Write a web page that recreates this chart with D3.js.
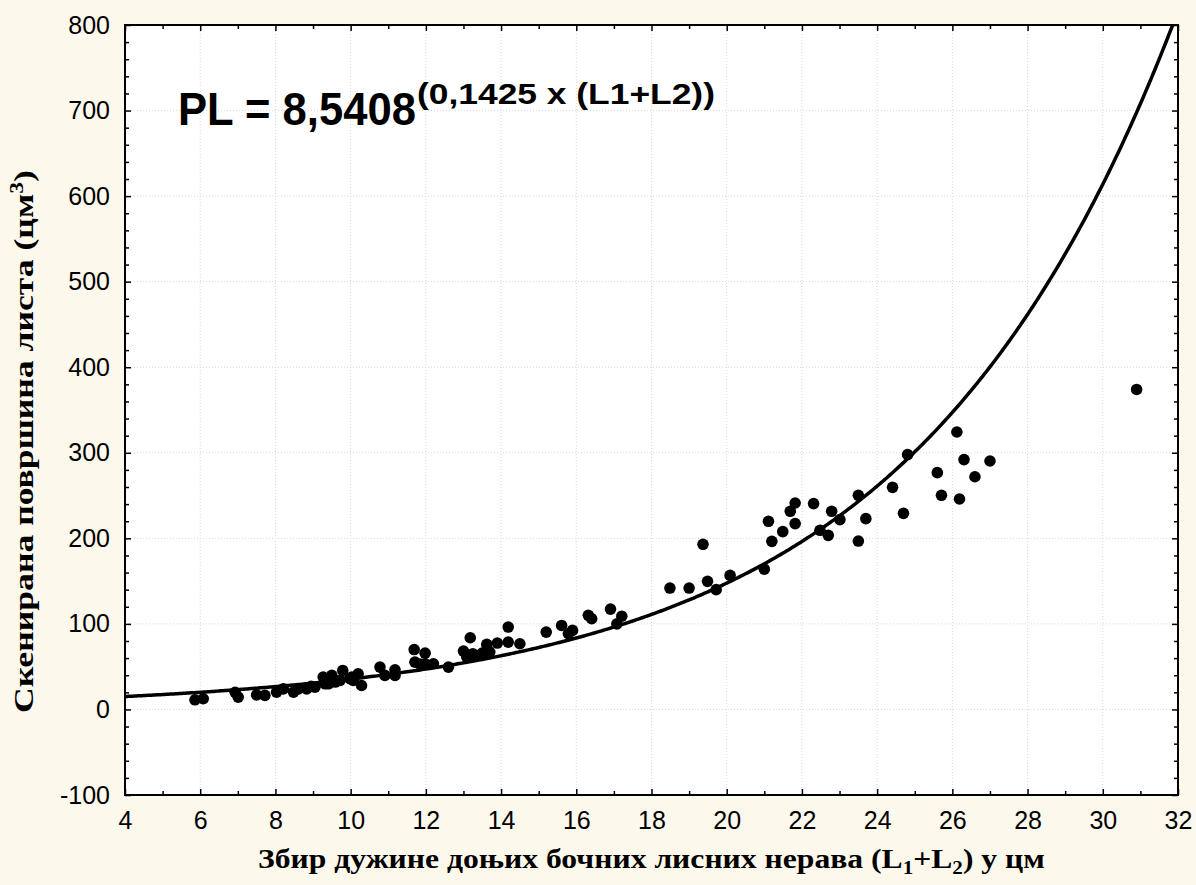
<!DOCTYPE html>
<html><head><meta charset="utf-8">
<script src="https://cdn.jsdelivr.net/npm/d3@7/dist/d3.min.js"></script>
<style>
html,body{margin:0;padding:0;background:#fdf8ec;}
svg{display:block;}
</style></head>
<body>
<svg id="chart" width="1196" height="885"></svg>
<script>
// Data
const sumL = [5.86,6.08,6.93,7.01,7.5,7.72,8.03,8.21,8.48,8.61,8.83,8.95,9.05,9.27,9.32,9.41,9.45,9.5,9.59,9.72,9.79,9.98,10.03,10.07,10.2,10.29,10.78,10.91,11.18,11.18,11.69,11.71,11.85,11.98,11.98,12.2,12.6,13.0,13.09,13.1,13.18,13.25,13.35,13.5,13.62,13.7,13.9,14.19,14.19,14.5,15.2,15.61,15.79,15.9,16.32,16.41,16.91,17.08,17.21,18.49,19.0,19.37,19.49,19.72,20.09,21.0,21.11,21.2,21.49,21.69,21.82,21.82,22.31,22.48,22.7,22.79,23.01,23.5,23.5,23.7,24.41,24.7,24.81,25.6,25.71,26.12,26.19,26.31,26.6,27.0,30.9];
const leafArea = [11.3,12.5,20,14.4,17,16.4,20.3,24,20.3,24,24,27,26,37.8,30,30,36,39.8,32,34,45.6,36,37.8,34,41.7,28,49.5,39.8,46.4,39.8,70,55.3,53,65.8,53.4,53.4,49.5,68.2,61,64,83.8,65,63,66,76,67,77.6,96.3,78.7,76.8,90.4,98.2,88.5,92.4,110,106,117.3,100,109,141.9,141.9,193,149.7,140,156.7,164,219.9,196.5,207.8,231.6,241.3,217.2,240.6,209.4,203.5,231.6,221.9,250.3,196.8,223,259.6,229.2,297.9,276.8,250.3,324.3,246,292,272,290.4,374];
const xTicks = [4,6,8,10,12,14,16,18,20,22,24,26,28,30,32];
const yTicks = [-100,0,100,200,300,400,500,600,700,800];
const fitA = 8.5408, fitB = 0.1425;

const svg = d3.select("#chart");
const L = 125, T = 25, R = 1178, B = 795;
const x = d3.scaleLinear().domain([4,32]).range([L,R]);
const y = d3.scaleLinear().domain([-100,800]).range([B,T]);

svg.append("rect").attr("x",L).attr("y",T).attr("width",R-L).attr("height",B-T).attr("fill","#fff");

// grid
const grid = svg.append("g").attr("stroke","#d8d8d8").attr("stroke-dasharray","1,2").attr("stroke-width",1);
xTicks.slice(1,-1).forEach(v=>grid.append("line").attr("x1",x(v)).attr("x2",x(v)).attr("y1",T).attr("y2",B));
yTicks.slice(1,-1).forEach(v=>grid.append("line").attr("y1",y(v)).attr("y2",y(v)).attr("x1",L).attr("x2",R));

// axes
const xMinor = d3.range(5,32,2);
const yMinor = d3.range(-80,800,20).filter(v=>v%100!==0);
function styleAxis(g){ g.select(".domain").remove(); g.selectAll("line").attr("stroke","#000").attr("stroke-width",1.5); }
const fontAx = "'Liberation Sans', Arial, sans-serif";
const fmt = d => String(d);

const gb = svg.append("g").attr("transform",`translate(0,${B})`).call(d3.axisBottom(x).tickValues(xTicks).tickSize(-6).tickPadding(16).tickFormat(fmt));
styleAxis(gb);
gb.selectAll("text").attr("font-family",fontAx).attr("font-size",25).attr("fill","#000");
svg.append("g").attr("transform",`translate(0,${B})`).call(d3.axisBottom(x).tickValues(xMinor).tickSize(-4).tickFormat("")).call(styleAxis);

const gl = svg.append("g").attr("transform",`translate(${L},0)`).call(d3.axisLeft(y).tickValues(yTicks).tickSize(-6).tickPadding(15).tickFormat(fmt));
styleAxis(gl);
gl.selectAll("text").attr("font-family",fontAx).attr("font-size",25).attr("fill","#000");
svg.append("g").attr("transform",`translate(${L},0)`).call(d3.axisLeft(y).tickValues(yMinor).tickSize(-4).tickFormat("")).call(styleAxis);

svg.append("g").attr("transform",`translate(0,${T})`).call(d3.axisTop(x).tickValues(xTicks).tickSize(-6).tickFormat("")).call(styleAxis);
svg.append("g").attr("transform",`translate(0,${T})`).call(d3.axisTop(x).tickValues(xMinor).tickSize(-4).tickFormat("")).call(styleAxis);
svg.append("g").attr("transform",`translate(${R},0)`).call(d3.axisRight(y).tickValues(yTicks).tickSize(-6).tickFormat("")).call(styleAxis);
svg.append("g").attr("transform",`translate(${R},0)`).call(d3.axisRight(y).tickValues(yMinor).tickSize(-4).tickFormat("")).call(styleAxis);

// frame
svg.append("rect").attr("x",L).attr("y",T).attr("width",R-L).attr("height",B-T).attr("fill","none").attr("stroke","#000").attr("stroke-width",2);

// clip
svg.append("clipPath").attr("id","clip").append("rect").attr("x",L).attr("y",T).attr("width",R-L).attr("height",B-T);

// fitted curve
const cx = d3.range(4,32.001,0.05);
const line = d3.line().x(d=>x(d)).y(d=>y(fitA*Math.exp(fitB*d)));
svg.append("path").datum(cx).attr("clip-path","url(#clip)").attr("d",line).attr("fill","none").attr("stroke","#000").attr("stroke-width",3.5);

// points
svg.append("g").selectAll("circle").data(sumL).join("circle")
  .attr("cx",d=>x(d)).attr("cy",(d,i)=>y(leafArea[i])).attr("r",5.8).attr("fill","#000");

// fit helper: scale text horizontally to target width, anchored at left x0
function fitH(sel, x0, width){
  const bb = sel.node().getBBox();
  const s = width/bb.width;
  sel.attr("transform",`translate(${x0},0) scale(${s},1) translate(${-bb.x},0)`);
}

// formula
const f1 = svg.append("text").attr("font-family",fontAx).attr("font-weight","bold").attr("font-size",47).attr("y",125).attr("fill","#000").text("PL = 8,5408");
fitH(f1,178,238);
const f2 = svg.append("text").attr("font-family",fontAx).attr("font-weight","bold").attr("font-size",29).attr("y",104).attr("fill","#000").text("(0,1425 x (L1+L2))");
fitH(f2,417,298);

// x title
const fontT = "'Liberation Serif', 'Times New Roman', serif";
const xt = svg.append("text").attr("font-family",fontT).attr("font-weight","bold").attr("font-size",27).attr("y",868).attr("fill","#000");
xt.append("tspan").text("Збир дужине доњих бочних лисних нерава (L");
xt.append("tspan").attr("font-size",18).attr("dy",6).text("1");
xt.append("tspan").attr("dy",-6).text("+L");
xt.append("tspan").attr("font-size",18).attr("dy",6).text("2");
xt.append("tspan").attr("dy",-6).text(") у цм");
fitH(xt,258,787);

// y title
const yg = svg.append("g").attr("transform","translate(33,713) rotate(-90)");
const yt = yg.append("text").attr("font-family",fontT).attr("font-weight","bold").attr("font-size",27).attr("y",0).attr("fill","#000");
yt.append("tspan").text("Скенирана површина листа (цм");
yt.append("tspan").attr("font-size",18).attr("dy",-10).text("3");
yt.append("tspan").attr("dy",10).text(")");
fitH(yt,0,543);
</script>
</body></html>
